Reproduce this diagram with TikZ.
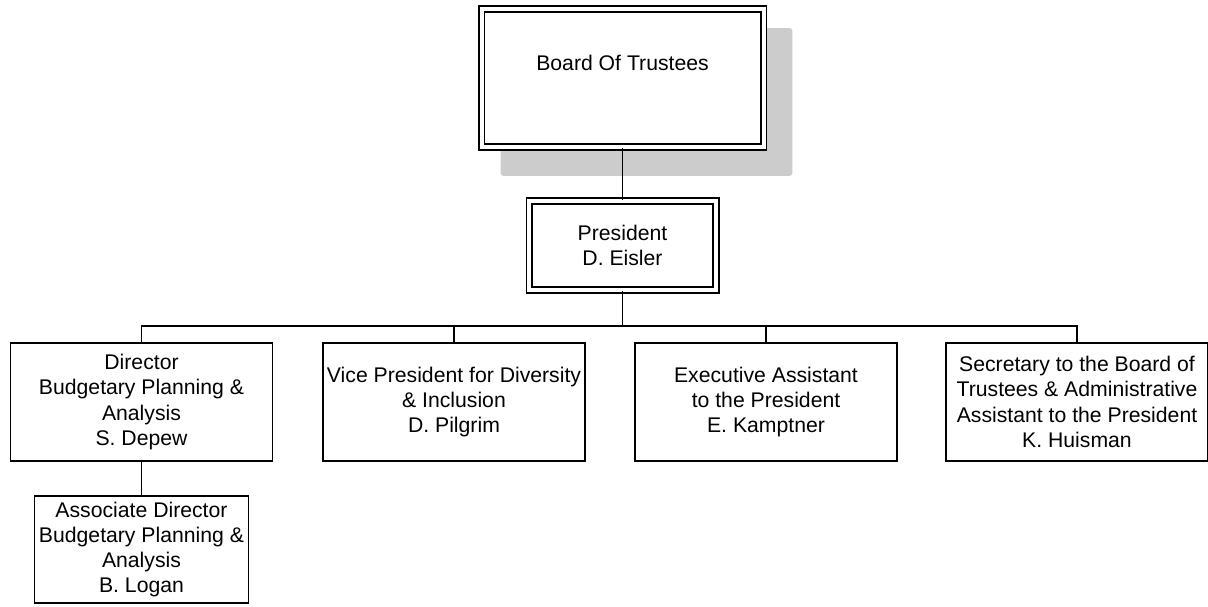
\documentclass[tikz,border=0pt]{standalone}
\usepackage{fontspec}
\setmainfont{Liberation Sans}
\usetikzlibrary{backgrounds}

\begin{document}
\begin{tikzpicture}[x=0.5pt,y=-0.5pt,line width=0.9pt,
    every node/.style={font=\fontsize{10.6}{12.6}\selectfont,align=center,inner sep=1pt},
    box/.style={draw,minimum width=131pt,minimum height=59pt},
    dbox/.style={draw,fill=white,double,double distance=2pt}]
  \useasboundingbox (0,0) rectangle (1208,606);
  % top of the chart
  \node[dbox,minimum width=141pt,minimum height=69pt,text height=7.7pt,text depth=15.3pt] (board) at (622.5,78) {Board Of Trustees};
  \begin{scope}[on background layer]
    \fill[black!20,rounded corners=1.5pt] ([shift={(20,20)}]board.north west) rectangle ([shift={(28,28)}]board.south east);
  \end{scope}
  \node[dbox,minimum width=93.2pt,minimum height=44.7pt] (pres) at (622.5,245.5) {President\\D. Eisler};
  % second row
  \node[box] (dir) at (141.5,402) {Director\\Budgetary Planning \&\\Analysis\\S. Depew};
  \node[box] (vp) at (454,402) {Vice President for Diversity\\\& Inclusion\\D. Pilgrim};
  \node[box] (exe) at (766,402) {Executive Assistant\\to the President\\E. Kamptner};
  \node[box] (sec) at (1077,402) {Secretary to the Board of\\Trustees \& Administrative\\Assistant to the President\\K. Huisman};
  \node[draw,minimum width=107pt,minimum height=53.5pt] (assoc) at (141.5,549.5) {Associate Director\\Budgetary Planning \&\\Analysis\\B. Logan};
  % connectors
  \draw (board.south) -- (pres.north);
  \draw (pres.south) -- ++(0,35) coordinate (bus);
  \draw (dir.north) |- (bus) -| (sec.north);
  \foreach \n in {vp,exe}
    \draw (\n.north) -- (\n.north |- bus);
  \draw (dir.south) -- (assoc.north);
\end{tikzpicture}
\end{document}
